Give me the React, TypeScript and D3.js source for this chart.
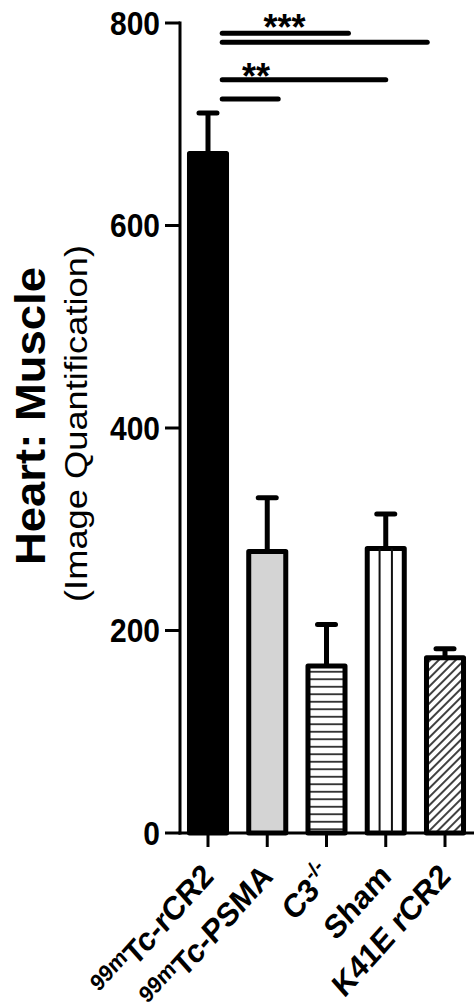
import * as d3 from 'd3'

// groups and values
const groups = ['99mTc-rCR2', '99mTc-PSMA', 'C3-/-', 'Sham', 'K41E rCR2']
const labelPre = ['99m', '99m', '', '', '']
const labelMain = ['Tc-rCR2', 'Tc-PSMA', 'C3', 'Sham', 'K41E rCR2']
const labelSup = ['', '', '-/-', '', '']
const means = [671, 278, 165, 281, 173]
const sems = [40, 53, 41, 34, 9]
const fills = ['#000', '#d4d4d4', 'url(#hlines)', '#fff', 'url(#hatch)']
const yTicks = [0, 200, 400, 600, 800]

// significance bars, positions in category units (0 = first bar centre)
const sigFrom = [0.24, 0.24, 0.24, 0.24]
const sigTo = [2.37, 3.7, 3.0, 1.185]
const sigAt = [790, 781, 744, 725]
const starText = ['***', '**']
const starPos = [1.29, 0.81]
const starAt = [783, 735]

export default function App() {
  const W = 474
  const H = 1004
  const x = d3.scaleBand<string>().domain(groups).range([180, 473]).paddingInner(0.375).paddingOuter(0.16)
  const y = d3.scaleLinear().domain([0, 800]).range([833, 23])
  const bw = x.bandwidth()
  const c0 = (x(groups[0]) as number) + bw / 2
  const cu = (u: number) => c0 + u * x.step()
  const font = '"Liberation Sans", Arial, Helvetica, sans-serif'

  return (
    <svg width={W} height={H} style={{ position: 'absolute', left: 0, top: 0, background: '#fff' }} fontFamily={font}>
      <defs>
        <pattern id="hlines" patternUnits="userSpaceOnUse" width={8} height={7.5} y={y(0)}>
          <rect width={8} height={7.5} fill="#fff" />
          <line x1={0} x2={8} y1={3.75} y2={3.75} stroke="#111" strokeWidth={1.6} />
        </pattern>
        <pattern id="hatch" patternUnits="userSpaceOnUse" width={6} height={6} patternTransform="rotate(45)">
          <rect width={6} height={6} fill="#fff" />
          <line x1={3} x2={3} y1={0} y2={6} stroke="#111" strokeWidth={1.6} />
        </pattern>
      </defs>

      {/* error bars (upper only) */}
      {groups.map((g, i) => {
        const cx = (x(g) as number) + bw / 2
        return (
          <g key={'e' + g} stroke="#000" strokeWidth={5}>
            <line x1={cx} x2={cx} y1={y(means[i])} y2={y(means[i] + sems[i])} />
            <line x1={cx - 9} x2={cx + 9} y1={y(means[i] + sems[i])} y2={y(means[i] + sems[i])} strokeLinecap="round" />
          </g>
        )
      })}

      {/* bars */}
      {groups.map((g, i) => (
        <g key={'b' + g}>
          <rect x={x(g)} y={y(means[i])} width={bw} height={y(0) - y(means[i])}
            fill={fills[i]} stroke="#000" strokeWidth={5} strokeLinejoin="round" />
          {g === 'Sham' && [1, 2].map(k => (
            <line key={k} x1={(x(g) as number) + (bw * k) / 3} x2={(x(g) as number) + (bw * k) / 3}
              y1={y(means[i])} y2={y(0)} stroke="#111" strokeWidth={2} />
          ))}
        </g>
      ))}

      {/* y axis */}
      <g stroke="#000" strokeWidth={3}>
        <line x1={180} x2={180} y1={y(800) - 1.5} y2={y(0) + 1.5} />
        {yTicks.map(t => <line key={t} x1={165} x2={180} y1={y(t)} y2={y(t)} />)}
      </g>
      {yTicks.map(t => (
        <text key={'t' + t} transform={`translate(160,${y(t)}) scale(1,1.08)`} dy="0.36em" textAnchor="end"
          fontSize={30} fontWeight="bold">{t}</text>
      ))}

      {/* x axis */}
      <g stroke="#000" strokeWidth={3}>
        <line x1={178.5} x2={W} y1={y(0)} y2={y(0)} />
        {groups.map(g => {
          const cx = (x(g) as number) + bw / 2
          return <line key={g} x1={cx} x2={cx} y1={y(0)} y2={y(0) + 14} />
        })}
      </g>
      {groups.map((g, i) => {
        const ax = (x(g) as number) + bw / 2 + 7
        const ay = 878
        return (
          <text key={'l' + g} transform={`translate(${ax},${ay}) scale(1,1.12) rotate(-45)`} textAnchor="end"
            fontSize={29.5} fontWeight="bold">
            {labelPre[i] && <tspan fontSize={21} dy={-10}>{labelPre[i]}</tspan>}
            <tspan dy={labelPre[i] ? 10 : 0}>{labelMain[i]}</tspan>
            {labelSup[i] && <tspan fontSize={19} dy={-13}>{labelSup[i]}</tspan>}
          </text>
        )
      })}

      {/* y label */}
      <text transform={`translate(45,416) rotate(-90)`} textAnchor="middle" fontSize={42} fontWeight="bold"
        textLength={298} lengthAdjust="spacingAndGlyphs">Heart: Muscle</text>
      <text transform={`translate(87,423.5) rotate(-90)`} textAnchor="middle" fontSize={31}
        textLength={357} lengthAdjust="spacingAndGlyphs">(Image Quantification)</text>

      {/* significance */}
      <g stroke="#000" strokeWidth={5} strokeLinecap="round">
        {sigFrom.map((f, i) => (
          <line key={i} x1={cu(f)} x2={cu(sigTo[i])} y1={y(sigAt[i])} y2={y(sigAt[i])} />
        ))}
      </g>
      {starText.map((s, i) => (
        <text key={s} x={cu(starPos[i])} y={y(starAt[i])} textAnchor="middle" fontSize={36} fontWeight="bold">{s}</text>
      ))}
    </svg>
  )
}
